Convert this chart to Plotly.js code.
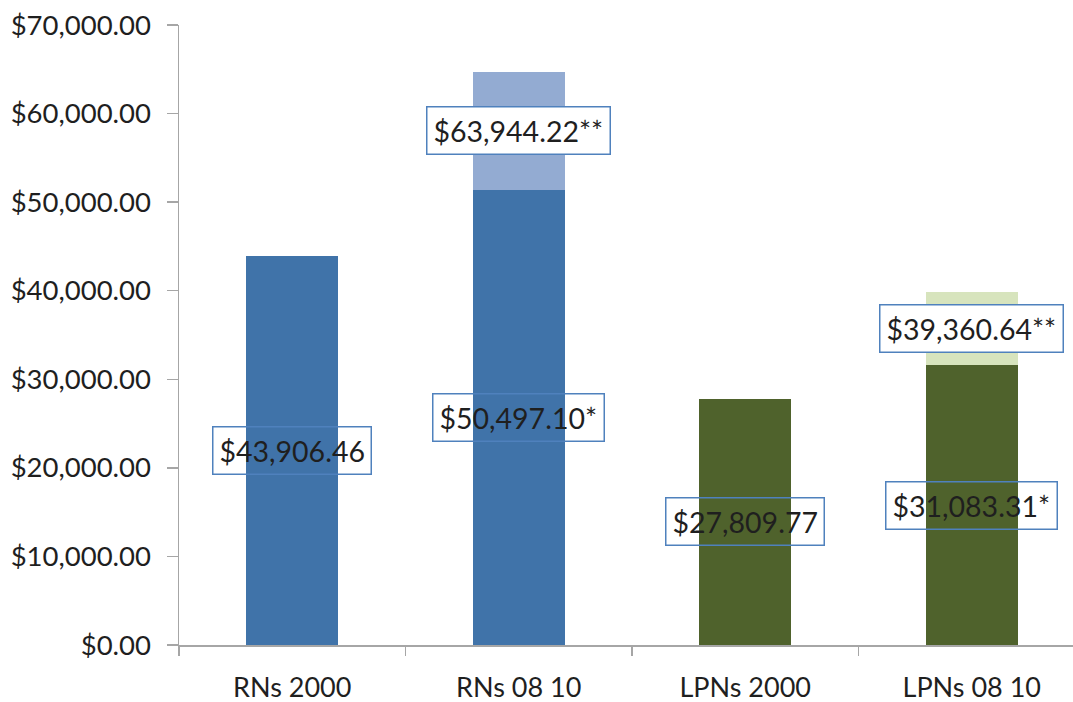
<!DOCTYPE html>
<html>
<head>
<meta charset="utf-8">
<script src="https://cdn.plot.ly/plotly-3.0.1.min.js"></script>
<style>html,body{margin:0;padding:0;background:#fff;}#chart{width:1073px;height:702px;}</style>
</head>
<body>
<div id="chart"></div>
<script>
// Data
const categories = ["RNs 2000", "RNs 08 10", "LPNs 2000", "LPNs 08 10"];
const baseValues = [43906, 51330, 27800, 31560];          // dark segment heights
const totalValues = [43906, 64740, 27800, 39890];         // total bar heights (with light part)
const baseLabels = ["$43,906.46", "$50,497.10*", "$27,809.77", "$31,083.31*"];
const topLabels = ["", "$63,944.22**", "", "$39,360.64**"];
const yTickValues = [0, 10000, 20000, 30000, 40000, 50000, 60000, 70000];
const yTickLabels = ["$0.00", "$10,000.00", "$20,000.00", "$30,000.00", "$40,000.00", "$50,000.00", "$60,000.00", "$70,000.00"];

const darkColors = ["#4073A9", "#4073A9", "#4F622C", "#4F622C"];
const lightColors = ["#93ABD2", "#93ABD2", "#D7E4BD", "#D7E4BD"];

const topValues = totalValues.map((t, i) => t - baseValues[i]);

const FONT = "Lato, 'Open Sans', sans-serif";
const TXT = "#1f1f1f";

const traces = [
  {type: "bar", x: categories, y: baseValues, marker: {color: darkColors}, hoverinfo: "none", showlegend: false},
  {type: "bar", x: categories, y: topValues, marker: {color: lightColors}, hoverinfo: "none", showlegend: false}
];

const annotations = [];
categories.forEach((c, i) => {
  annotations.push({
    x: c, y: baseValues[i] / 2, xref: "x", yref: "y", text: baseLabels[i], showarrow: false,
    font: {family: FONT, size: 28.5, color: TXT},
    bordercolor: "#4F81BD", borderwidth: 1.5, borderpad: 6, bgcolor: "rgba(0,0,0,0)"
  });
  if (topLabels[i]) {
    annotations.push({
      x: c, y: baseValues[i] + topValues[i] / 2, xref: "x", yref: "y", text: topLabels[i], showarrow: false,
      font: {family: FONT, size: 28.5, color: TXT},
      bordercolor: "#4F81BD", borderwidth: 1.5, borderpad: 6, bgcolor: "#ffffff"
    });
  }
});

const layout = {
  width: 1073, height: 702,
  margin: {l: 179, r: 0, t: 25, b: 57},
  paper_bgcolor: "#fff", plot_bgcolor: "#fff",
  barmode: "stack",
  bargap: 0.594,
  font: {family: FONT, size: 27, color: TXT},
  xaxis: {
    range: [-0.5, 3.447],
    showline: true, linecolor: "#A6A6A6", linewidth: 1.5,
    ticks: "outside", tickson: "boundaries", ticklen: 9, tickcolor: "#A6A6A6", tickwidth: 1.5,
    tickfont: {family: FONT, size: 27, color: TXT},
    ticklabelstandoff: 18,
    showgrid: false, zeroline: false, fixedrange: true
  },
  yaxis: {
    range: [0, 70000],
    tickvals: yTickValues, ticktext: yTickLabels,
    showline: true, linecolor: "#A6A6A6", linewidth: 1.5,
    ticks: "outside", ticklen: 11, tickcolor: "#A6A6A6", tickwidth: 1.5,
    tickfont: {family: FONT, size: 27.5, color: TXT},
    ticklabelstandoff: 10,
    showgrid: false, zeroline: false, fixedrange: true
  },
  annotations: annotations
};

Plotly.newPlot("chart", traces, layout, {displayModeBar: false, staticPlot: true});
</script>
</body>
</html>
